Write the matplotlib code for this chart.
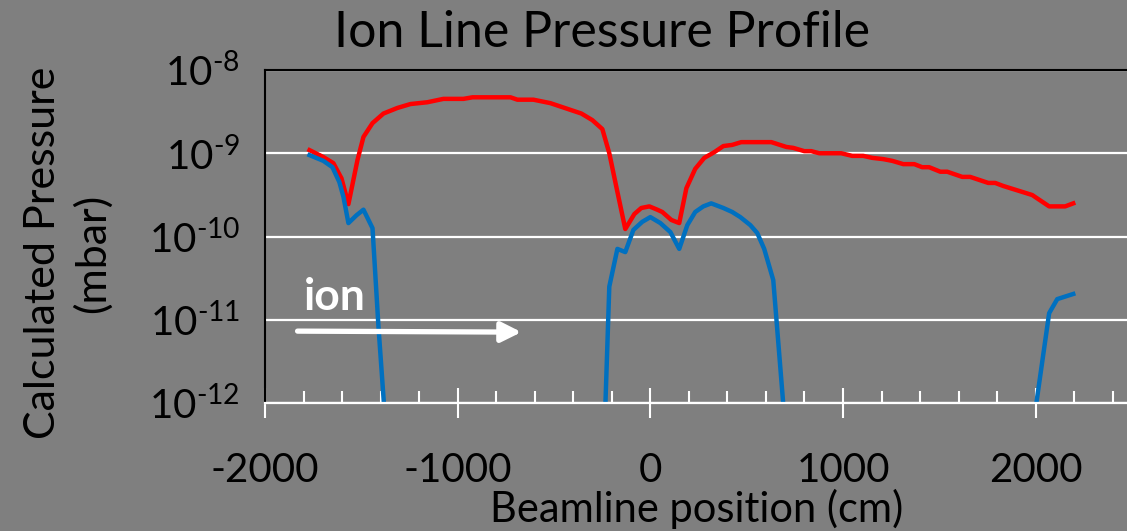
import matplotlib
matplotlib.use("Agg")
import matplotlib.pyplot as plt
from matplotlib.ticker import FixedLocator, MultipleLocator, NullLocator

plt.rcParams["font.family"] = ["Lato", "DejaVu Sans"]
plt.rcParams["mathtext.fontset"] = "custom"
plt.rcParams["mathtext.rm"] = "Lato"
plt.rcParams["axes.unicode_minus"] = False

BG = "#7f7f7f"
RED = "#ff0000"
BLUE = "#0070c0"

# total pressure (red) along the beamline
red_pos = [-1769, -1697, -1645, -1603, -1567, -1520, -1489, -1442, -1385, -1313,
           -1245, -1157, -1074, -970, -923, -726, -690, -607, -519, -358,
           -301, -249, -213, -176, -130, -83, -47, -5, 36, 62,
           109, 150, 187, 233, 280, 332, 379, 425, 472, 628,
           706, 742, 799, 835, 877, 991, 1048, 1105, 1152, 1209,
           1256, 1313, 1370, 1411, 1447, 1505, 1541, 1619, 1660, 1754,
           1790, 1831, 1982, 2070, 2153, 2195]
red_p = [1.09e-9, 9.0e-10, 7.6e-10, 5.0e-10, 2.45e-10, 8.3e-10, 1.57e-9, 2.3e-9, 3.0e-9, 3.5e-9,
         3.9e-9, 4.1e-9, 4.5e-9, 4.5e-9, 4.7e-9, 4.7e-9, 4.4e-9, 4.4e-9, 4.0e-9, 3.0e-9,
         2.5e-9, 1.95e-9, 1.0e-9, 3.9e-10, 1.23e-10, 1.86e-10, 2.2e-10, 2.3e-10, 2.1e-10, 1.97e-10,
         1.58e-10, 1.45e-10, 3.8e-10, 6.5e-10, 8.8e-10, 1.03e-9, 1.22e-9, 1.26e-9, 1.36e-9, 1.36e-9,
         1.19e-9, 1.16e-9, 1.06e-9, 1.06e-9, 1.0e-9, 1.0e-9, 9.3e-10, 9.3e-10, 8.8e-10, 8.5e-10,
         8.1e-10, 7.4e-10, 7.4e-10, 6.8e-10, 6.8e-10, 6.0e-10, 6.0e-10, 5.2e-10, 5.2e-10, 4.4e-10,
         4.4e-10, 4.05e-10, 3.15e-10, 2.3e-10, 2.3e-10, 2.5e-10]

# second series (blue); values under 1e-12 fall off the axis
blue_pos = [-1769, -1697, -1650, -1614, -1593, -1567, -1525, -1489, -1442, -1411,
            -1380, -240, -213, -171, -130, -88, -42, 0, 52, 104,
            150, 192, 233, 275, 316, 379, 425, 467, 519, 555,
            591, 638, 700, 1990, 2070, 2112, 2195]
blue_p = [9.5e-10, 8.1e-10, 6.8e-10, 4.5e-10, 3.0e-10, 1.45e-10, 1.8e-10, 2.1e-10, 1.26e-10, 8.2e-12,
          8e-13, 3.2e-13, 2.5e-11, 7.1e-11, 6.5e-11, 1.2e-10, 1.5e-10, 1.71e-10, 1.45e-10, 1.13e-10,
          7.1e-11, 1.37e-10, 1.97e-10, 2.3e-10, 2.5e-10, 2.2e-10, 1.97e-10, 1.71e-10, 1.37e-10, 1.1e-10,
          7.1e-11, 3.0e-11, 5e-13, 6e-13, 1.2e-11, 1.77e-11, 2.04e-11]

x_ticks = [-2000, -1000, 0, 1000, 2000]
x_tick_labels = ["-2000", "-1000", "0", "1000", "2000"]
y_ticks = [1e-12, 1e-11, 1e-10, 1e-9, 1e-8]
y_tick_labels = ["$\\mathregular{10^{\u2010 12}}$", "$\\mathregular{10^{\u2010 11}}$",
                 "$\\mathregular{10^{\u2010 10}}$", "$\\mathregular{10^{\u2010 9}}$",
                 "$\\mathregular{10^{\u2010 8}}$"]

W, H = 1127, 531
fig = plt.figure(figsize=(W / 100, H / 100), dpi=100, facecolor=BG)
ax = fig.add_axes([265 / W, 1 - 403 / H, (1132 - 265) / W, (403 - 70) / H], facecolor=BG)

ax.set_yscale("log")
ax.set_ylim(1e-12, 1e-8)
ax.set_xlim(-2000, 2500)

ax.yaxis.set_major_locator(FixedLocator(y_ticks))
ax.yaxis.set_minor_locator(NullLocator())
ax.set_yticklabels(y_tick_labels)
ax.yaxis.grid(True, color="white", lw=1.6)
ax.set_axisbelow(True)
ax.tick_params(axis="y", length=0, pad=18, labelsize=29, labelcolor="black")

ax.xaxis.set_major_locator(FixedLocator(x_ticks))
ax.xaxis.set_minor_locator(MultipleLocator(200))
ax.set_xticklabels(x_tick_labels)
ax.tick_params(axis="x", which="major", direction="inout", length=22, width=1.5,
               color="white", pad=24, labelsize=29, labelcolor="black")
ax.tick_params(axis="x", which="minor", direction="in", length=8.5, width=1.5, color="white")

ax.spines["bottom"].set_color("white")
ax.spines["bottom"].set_linewidth(1.6)
for side in ("left", "top", "right"):
    ax.spines[side].set_color("black")
    ax.spines[side].set_linewidth(1.5)

ax.plot(red_pos, red_p, color=RED, lw=3.2, solid_joinstyle="round")
ax.plot(blue_pos, blue_p, color=BLUE, lw=3.2, solid_joinstyle="round")

# beam direction marker
ax.text(-1800, 1.31e-11, "ion", color="white", fontsize=32, fontweight="bold",
        ha="left", va="baseline")
ax.annotate("", xy=(-669, 7.1e-12), xytext=(-1831, 7.3e-12),
            arrowprops=dict(arrowstyle="-|>", color="white", lw=3.8,
                            mutation_scale=30, capstyle="round",
                            shrinkA=0, shrinkB=0))

fig.text(602 / W, 1 - 33 / H, "Ion Line Pressure Profile", fontsize=36,
         ha="center", va="center", color="black")
fig.text(697 / W, 1 - 509 / H, "Beamline position (cm)", fontsize=30,
         ha="center", va="center", color="black")
fig.text(68 / W, 1 - 253 / H, "Calculated Pressure\n(mbar)", fontsize=31,
         ha="center", va="center", rotation=90, linespacing=1.3,
         multialignment="center", color="black")

fig.savefig("out.png", dpi=100, facecolor=BG)
